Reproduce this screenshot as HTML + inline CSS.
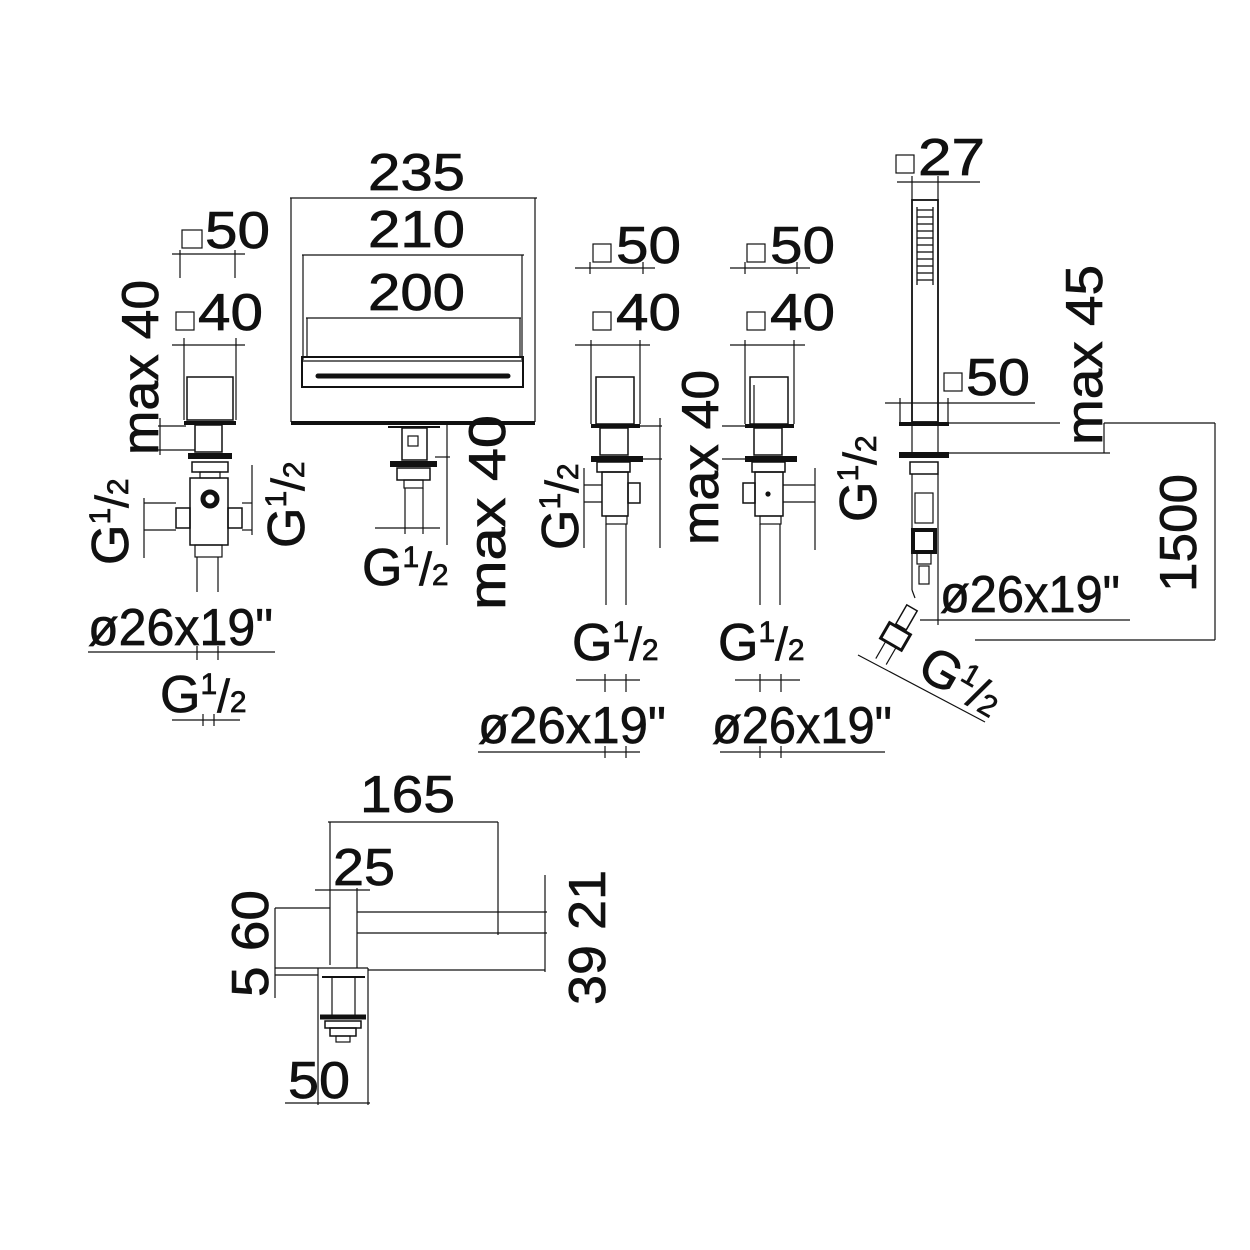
<!DOCTYPE html>
<html><head><meta charset="utf-8"><style>
html,body{margin:0;padding:0;background:#fff}
svg{display:block}
text{font-family:"Liberation Sans",sans-serif;fill:#111;stroke:#111;stroke-width:0.7}
</style></head><body>
<svg width="1250" height="1250" viewBox="0 0 1250 1250" xmlns="http://www.w3.org/2000/svg">
<g fill="none" stroke="#111" stroke-width="1.2">
<rect x="182" y="230" width="20" height="18"/>
<line x1="172" y1="254" x2="245" y2="254"/><line x1="180" y1="250" x2="180" y2="278"/><line x1="235" y1="250" x2="235" y2="278"/>
<rect x="176" y="312" width="18" height="18"/>
<line x1="172" y1="345" x2="245" y2="345"/>
<line x1="184" y1="338" x2="184" y2="420"/><line x1="236" y1="338" x2="236" y2="420"/>
<rect x="187" y="377" width="46" height="43" stroke-width="1.5"/>
<line x1="184" y1="423" x2="236" y2="423" stroke-width="4"/>
<rect x="195" y="425" width="27" height="27" stroke-width="1.5"/>
<line x1="188" y1="456" x2="232" y2="456" stroke-width="6"/>
<rect x="192" y="462" width="36" height="10" stroke-width="1.5"/>
<rect x="200" y="472" width="20" height="6"/>
<rect x="190" y="478" width="38" height="67" stroke-width="1.5"/>
<circle cx="210" cy="499" r="7" stroke-width="5"/>
<rect x="176" y="508" width="14" height="20" stroke-width="1.5"/><rect x="228" y="508" width="14" height="20" stroke-width="1.5"/>
<rect x="195" y="545" width="27" height="12"/>
<line x1="197" y1="557" x2="197" y2="592"/><line x1="218" y1="557" x2="218" y2="592"/>
<line x1="160" y1="418" x2="160" y2="455"/><line x1="158" y1="426" x2="186" y2="426"/><line x1="158" y1="450" x2="195" y2="450"/>
<line x1="144" y1="503" x2="176" y2="503"/><line x1="144" y1="530" x2="176" y2="530"/><line x1="144" y1="498" x2="144" y2="558"/>
<line x1="252" y1="465" x2="252" y2="535"/><line x1="242" y1="503" x2="252" y2="503"/><line x1="242" y1="530" x2="252" y2="530"/>
<line x1="88" y1="652" x2="275" y2="652"/><line x1="197" y1="646" x2="197" y2="660"/><line x1="218" y1="646" x2="218" y2="660"/>
<line x1="172" y1="720" x2="240" y2="720"/><line x1="203" y1="714" x2="203" y2="726"/><line x1="214" y1="714" x2="214" y2="726"/>

<line x1="290" y1="198" x2="537" y2="198"/>
<line x1="291" y1="198" x2="291" y2="422"/><line x1="535" y1="198" x2="535" y2="422"/>
<line x1="302" y1="255" x2="524" y2="255"/><line x1="303" y1="255" x2="303" y2="360"/><line x1="522" y1="255" x2="522" y2="360"/>
<line x1="306" y1="318" x2="521" y2="318"/><line x1="307" y1="318" x2="307" y2="357"/><line x1="520" y1="318" x2="520" y2="357"/>
<rect x="302" y="357" width="221" height="30" stroke-width="2"/>
<line x1="302" y1="361" x2="523" y2="361"/>
<line x1="318" y1="376" x2="508" y2="376" stroke-width="5" stroke-linecap="round"/>
<line x1="291" y1="423" x2="535" y2="423" stroke-width="4"/>
<line x1="388" y1="427" x2="440" y2="427" stroke-width="2"/>
<rect x="402" y="428" width="25" height="32" stroke-width="1.5"/>
<rect x="408" y="436" width="10" height="10"/>
<line x1="390" y1="464" x2="437" y2="464" stroke-width="6"/>
<rect x="397" y="468" width="33" height="12" stroke-width="1.5"/>
<rect x="404" y="480" width="19" height="8"/>
<line x1="405" y1="488" x2="405" y2="534"/><line x1="423" y1="488" x2="423" y2="534"/>
<line x1="375" y1="528" x2="440" y2="528"/>
<line x1="447" y1="425" x2="447" y2="545"/><line x1="435" y1="457" x2="450" y2="457"/>

<rect x="593" y="244" width="18" height="18"/>
<line x1="575" y1="268" x2="655" y2="268"/><line x1="590" y1="262" x2="590" y2="274"/><line x1="643" y1="262" x2="643" y2="274"/>
<rect x="593" y="312" width="18" height="18"/>
<line x1="575" y1="345" x2="650" y2="345"/>
<line x1="591" y1="340" x2="591" y2="424"/><line x1="640" y1="340" x2="640" y2="424"/>
<rect x="596" y="377" width="38" height="47" stroke-width="1.5"/>
<line x1="591" y1="426" x2="640" y2="426" stroke-width="4"/>
<rect x="600" y="428" width="28" height="27" stroke-width="1.5"/>
<line x1="591" y1="459" x2="643" y2="459" stroke-width="6"/>
<rect x="597" y="462" width="33" height="10" stroke-width="1.5"/>
<rect x="602" y="472" width="26" height="44" stroke-width="1.5"/>
<rect x="628" y="483" width="12" height="20" stroke-width="1.5"/>
<rect x="606" y="516" width="21" height="8"/>
<line x1="606" y1="524" x2="606" y2="605"/><line x1="626" y1="524" x2="626" y2="605"/>
<line x1="584" y1="468" x2="584" y2="548"/><line x1="584" y1="485" x2="602" y2="485"/><line x1="584" y1="502" x2="602" y2="502"/>
<line x1="660" y1="418" x2="660" y2="548"/><line x1="640" y1="426" x2="662" y2="426"/><line x1="640" y1="459" x2="662" y2="459"/>
<line x1="576" y1="680" x2="640" y2="680"/><line x1="605" y1="674" x2="605" y2="692"/><line x1="626" y1="674" x2="626" y2="692"/>
<line x1="478" y1="752" x2="640" y2="752"/><line x1="605" y1="746" x2="605" y2="758"/><line x1="626" y1="746" x2="626" y2="758"/>

<rect x="747" y="244" width="18" height="18"/>
<line x1="730" y1="268" x2="810" y2="268"/><line x1="745" y1="262" x2="745" y2="274"/><line x1="797" y1="262" x2="797" y2="274"/>
<rect x="747" y="312" width="18" height="18"/>
<line x1="730" y1="345" x2="805" y2="345"/>
<line x1="745" y1="340" x2="745" y2="424"/><line x1="794" y1="340" x2="794" y2="424"/>
<rect x="750" y="377" width="38" height="47" stroke-width="1.5"/>
<line x1="754" y1="385" x2="754" y2="424"/>
<line x1="745" y1="426" x2="794" y2="426" stroke-width="4"/>
<rect x="754" y="428" width="28" height="27" stroke-width="1.5"/>
<line x1="745" y1="459" x2="797" y2="459" stroke-width="6"/>
<rect x="752" y="462" width="33" height="10" stroke-width="1.5"/>
<rect x="755" y="472" width="28" height="44" stroke-width="1.5"/>
<rect x="743" y="483" width="12" height="20" stroke-width="1.5"/>
<circle cx="768" cy="494" r="2" fill="#111"/>
<rect x="760" y="516" width="21" height="8"/>
<line x1="760" y1="524" x2="760" y2="605"/><line x1="780" y1="524" x2="780" y2="605"/>
<line x1="722" y1="426" x2="745" y2="426"/><line x1="722" y1="459" x2="745" y2="459"/>
<line x1="815" y1="468" x2="815" y2="550"/><line x1="783" y1="485" x2="815" y2="485"/><line x1="783" y1="502" x2="815" y2="502"/>
<line x1="735" y1="680" x2="800" y2="680"/><line x1="760" y1="674" x2="760" y2="692"/><line x1="781" y1="674" x2="781" y2="692"/>
<line x1="720" y1="752" x2="885" y2="752"/><line x1="760" y1="746" x2="760" y2="758"/><line x1="781" y1="746" x2="781" y2="758"/>

<rect x="896" y="155" width="18" height="18"/>
<line x1="897" y1="182" x2="980" y2="182"/><line x1="912" y1="176" x2="912" y2="200"/><line x1="938" y1="176" x2="938" y2="200"/>
<rect x="912" y="200" width="26" height="222" stroke-width="1.8"/>
<g stroke-width="1.3"><line x1="917" y1="210" x2="933" y2="210"/><line x1="917" y1="217" x2="933" y2="217"/><line x1="917" y1="224" x2="933" y2="224"/><line x1="917" y1="231" x2="933" y2="231"/><line x1="917" y1="238" x2="933" y2="238"/><line x1="917" y1="245" x2="933" y2="245"/><line x1="917" y1="252" x2="933" y2="252"/><line x1="917" y1="259" x2="933" y2="259"/><line x1="917" y1="266" x2="933" y2="266"/><line x1="917" y1="273" x2="933" y2="273"/><line x1="917" y1="280" x2="933" y2="280"/><line x1="917" y1="207" x2="917" y2="285"/><line x1="933" y1="207" x2="933" y2="285"/></g>
<rect x="944" y="373" width="18" height="18"/>
<line x1="885" y1="403" x2="1035" y2="403"/><line x1="900" y1="398" x2="900" y2="422"/><line x1="948" y1="398" x2="948" y2="422"/>
<line x1="899" y1="424" x2="949" y2="424" stroke-width="4"/>
<line x1="949" y1="423" x2="1060" y2="423"/>
<line x1="912" y1="426" x2="912" y2="452"/><line x1="938" y1="426" x2="938" y2="452"/>
<line x1="899" y1="455" x2="949" y2="455" stroke-width="6"/>
<line x1="938" y1="453" x2="1110" y2="453"/>
<line x1="1104" y1="423" x2="1104" y2="453"/><line x1="1104" y1="423" x2="1215" y2="423"/>
<rect x="910" y="462" width="28" height="12" stroke-width="1.5"/>
<line x1="912" y1="474" x2="912" y2="590"/><line x1="938" y1="474" x2="938" y2="625"/>
<rect x="915" y="493" width="18" height="30"/>
<rect x="913" y="530" width="22" height="22" stroke-width="4"/>
<rect x="917" y="552" width="14" height="12"/>
<rect x="919" y="566" width="10" height="18"/>
<line x1="912" y1="590" x2="915" y2="598"/>
<g transform="translate(905,620) rotate(30)"><rect x="-6" y="-14" width="12" height="22" stroke-width="1.5"/><rect x="-12" y="10" width="24" height="18" stroke-width="3"/><line x1="-6" y1="28" x2="-6" y2="48"/><line x1="6" y1="28" x2="6" y2="48"/></g>
<line x1="858" y1="655" x2="985" y2="722"/>
<line x1="920" y1="620" x2="1130" y2="620"/>
<line x1="975" y1="640" x2="1215" y2="640"/>
<line x1="1215" y1="423" x2="1215" y2="640"/>

<line x1="328" y1="822" x2="498" y2="822"/><line x1="330" y1="822" x2="330" y2="965"/><line x1="498" y1="822" x2="498" y2="935"/>
<line x1="315" y1="890" x2="370" y2="890"/><line x1="357" y1="888" x2="357" y2="968"/>
<line x1="357" y1="912" x2="547" y2="912"/><line x1="357" y1="933" x2="547" y2="933"/>
<line x1="545" y1="875" x2="545" y2="972"/>
<line x1="275" y1="908" x2="330" y2="908"/><line x1="275" y1="908" x2="275" y2="998"/>
<line x1="275" y1="968" x2="368" y2="968"/><line x1="275" y1="975" x2="318" y2="975"/>
<line x1="368" y1="970" x2="545" y2="970"/>
<line x1="318" y1="968" x2="318" y2="1105"/><line x1="368" y1="968" x2="368" y2="1105"/>
<line x1="322" y1="977" x2="365" y2="977" stroke-width="2"/>
<line x1="332" y1="977" x2="332" y2="1015"/><line x1="355" y1="977" x2="355" y2="1015"/>
<line x1="320" y1="1017" x2="366" y2="1017" stroke-width="5"/>
<rect x="325" y="1021" width="36" height="7" stroke-width="1.5"/>
<rect x="330" y="1028" width="26" height="8" stroke-width="1.5"/>
<rect x="336" y="1036" width="14" height="6"/>
<line x1="285" y1="1103" x2="370" y2="1103"/>
</g>

<g font-size="52">
<text x="368" y="190" textLength="97" lengthAdjust="spacingAndGlyphs">235</text>
<text x="368" y="247" textLength="97" lengthAdjust="spacingAndGlyphs">210</text>
<text x="368" y="310" textLength="97" lengthAdjust="spacingAndGlyphs">200</text>
<text x="205" y="248" textLength="65" lengthAdjust="spacingAndGlyphs">50</text>
<text x="198" y="330" textLength="65" lengthAdjust="spacingAndGlyphs">40</text>
<text x="616" y="263" textLength="65" lengthAdjust="spacingAndGlyphs">50</text>
<text x="616" y="330" textLength="65" lengthAdjust="spacingAndGlyphs">40</text>
<text x="770" y="263" textLength="65" lengthAdjust="spacingAndGlyphs">50</text>
<text x="770" y="330" textLength="65" lengthAdjust="spacingAndGlyphs">40</text>
<text x="918" y="175" textLength="67" lengthAdjust="spacingAndGlyphs">27</text>
<text x="966" y="395" textLength="64" lengthAdjust="spacingAndGlyphs">50</text>
<text x="88" y="645" textLength="185" lengthAdjust="spacingAndGlyphs">ø26x19"</text>
<text x="478" y="743" textLength="188" lengthAdjust="spacingAndGlyphs">ø26x19"</text>
<text x="712" y="743" textLength="180" lengthAdjust="spacingAndGlyphs">ø26x19"</text>
<text x="940" y="612" textLength="180" lengthAdjust="spacingAndGlyphs">ø26x19"</text>
<text x="360" y="812" textLength="95" lengthAdjust="spacingAndGlyphs">165</text>
<text x="333" y="885" textLength="62" lengthAdjust="spacingAndGlyphs">25</text>
<text x="288" y="1098" textLength="62" lengthAdjust="spacingAndGlyphs">50</text>

<text transform="translate(158,455) rotate(-90)" textLength="175" lengthAdjust="spacingAndGlyphs">max 40</text>
<text transform="translate(505,610) rotate(-90)" textLength="195" lengthAdjust="spacingAndGlyphs">max 40</text>
<text transform="translate(718,545) rotate(-90)" textLength="175" lengthAdjust="spacingAndGlyphs">max 40</text>
<text transform="translate(1102,445) rotate(-90)" textLength="180" lengthAdjust="spacingAndGlyphs">max 45</text>
<text transform="translate(1196,592) rotate(-90)" textLength="118" lengthAdjust="spacingAndGlyphs">1500</text>
<text transform="translate(268,997) rotate(-90)" textLength="107" lengthAdjust="spacingAndGlyphs">5 60</text>
<text transform="translate(605,1005) rotate(-90)" textLength="135" lengthAdjust="spacingAndGlyphs">39 21</text>

<text x="362" y="585">G<tspan font-size="30" dy="-18">1</tspan><tspan font-size="46" dy="18">/</tspan><tspan font-size="30">2</tspan></text>
<text x="160" y="712">G<tspan font-size="30" dy="-18">1</tspan><tspan font-size="46" dy="18">/</tspan><tspan font-size="30">2</tspan></text>
<text x="572" y="660">G<tspan font-size="30" dy="-18">1</tspan><tspan font-size="46" dy="18">/</tspan><tspan font-size="30">2</tspan></text>
<text x="718" y="660">G<tspan font-size="30" dy="-18">1</tspan><tspan font-size="46" dy="18">/</tspan><tspan font-size="30">2</tspan></text>
<text transform="translate(128,565) rotate(-90)">G<tspan font-size="30" dy="-18">1</tspan><tspan font-size="46" dy="18">/</tspan><tspan font-size="30">2</tspan></text>
<text transform="translate(304,548) rotate(-90)">G<tspan font-size="30" dy="-18">1</tspan><tspan font-size="46" dy="18">/</tspan><tspan font-size="30">2</tspan></text>
<text transform="translate(578,550) rotate(-90)">G<tspan font-size="30" dy="-18">1</tspan><tspan font-size="46" dy="18">/</tspan><tspan font-size="30">2</tspan></text>
<text transform="translate(876,522) rotate(-90)">G<tspan font-size="30" dy="-18">1</tspan><tspan font-size="46" dy="18">/</tspan><tspan font-size="30">2</tspan></text>
<text transform="translate(915,675) rotate(30)">G<tspan font-size="30" dy="-18">1</tspan><tspan font-size="46" dy="18">/</tspan><tspan font-size="30">2</tspan></text>
</g>
</svg>
</body></html>
